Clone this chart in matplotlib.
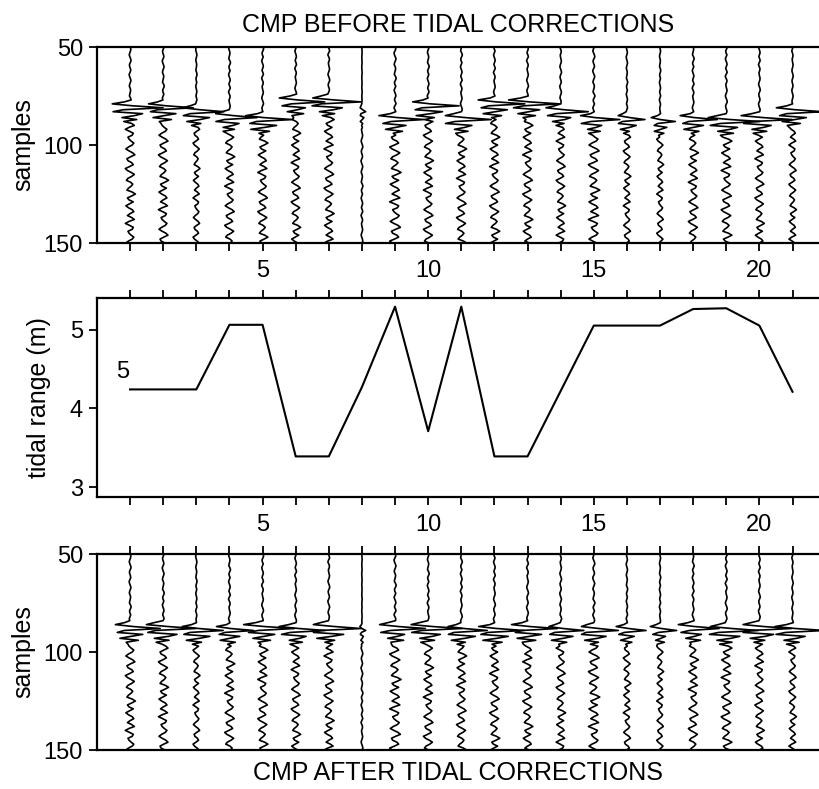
import numpy as np
import matplotlib.pyplot as plt

plt.rcParams['font.family'] = ['Liberation Sans', 'DejaVu Sans']

# CMP numbers and tidal range
cmp_no = np.arange(1, 22)
tidal_range = [4.24, 4.24, 4.24, 5.06, 5.06, 3.39, 3.39, 4.27, 5.29, 3.71, 5.29,
               3.39, 3.39, 4.22, 5.05, 5.05, 5.05, 5.26, 5.27, 5.05, 4.21]

# first-break sample of the main reflection, before / after correction
arrival_before = [78, 78, 80, 83, 84, 75, 75, 80, 84, 77, 84,
                  76, 76, 80, 84, 84, 85, 84, 85, 84, 80]
arrival_after = [85, 85, 86, 86, 85, 86, 85, 86, 85, 85, 86,
                 86, 85, 86, 86, 86, 86, 85, 86, 85, 86]

# per-trace amplitude of the reflection and of the background wiggle
trace_gain = [1.0, 1.0, 0.9, 0.8, 1.0, 0.9, 1.0, 0.12, 0.9, 1.0, 0.9,
              1.0, 1.0, 0.8, 0.8, 0.6, 0.5, 0.8, 1.0, 1.0, 1.0]
noise_gain = [0.16, 0.16, 0.11, 0.16, 0.16, 0.15, 0.16, 0.03, 0.18, 0.16, 0.16,
              0.16, 0.16, 0.15, 0.18, 0.12, 0.11, 0.16, 0.17, 0.15, 0.12]
coda_offset = [0, 7, 13, 19, 26, 31, 38, 4, 11, 17, 23,
               29, 35, 42, 2, 9, 15, 21, 27, 33, 40]

# hand-read reflection wavelet and trailing wiggle pattern (one value per sample)
wavelet = [-0.2, -0.5, 0.1, 0.95, -0.2, -0.45, 0.4, 0.1, -0.3, 0.2, -0.15]
coda = [0.2, 0.7, 0.4, -0.3, -0.8, -0.2, 0.5, 0.9, 0.1, -0.6, -0.4, 0.3,
        0.6, -0.1, -0.9, -0.5, 0.2, 0.8, 0.3, -0.4, -0.7, 0.1, 0.5, 0.2,
        -0.3, -0.6, 0.4, 1.0, 0.3, -0.5, -0.2, 0.6, -0.1, -0.8, -0.3, 0.4,
        0.7, 0.0, -0.5, 0.3, 0.8, -0.2, -0.9, -0.1, 0.6, 0.4, -0.4, -0.2]

samples = np.arange(50, 151)


def make_trace(i, arrival):
    sig = np.zeros(len(samples))
    for k, s in enumerate(samples):
        n = noise_gain[i] * coda[(k + coda_offset[i]) % len(coda)]
        j = s - arrival
        if j < 0:
            sig[k] = 0.2 * n
        elif j < len(wavelet):
            sig[k] = trace_gain[i] * wavelet[j] + 0.5 * n
        else:
            sig[k] = n
    return sig


def draw_section(ax, arrivals):
    for i, c in enumerate(cmp_no):
        ax.plot(c + make_trace(i, arrivals[i]), samples, color='black', lw=1.2)
    ax.set_ylim(150, 50)
    ax.set_yticks([50, 100, 150])


fig = plt.figure(figsize=(8.19, 7.89), dpi=100)
ax1 = fig.add_axes([0.1184, 0.692, 0.8816, 0.2484])
ax2 = fig.add_axes([0.1184, 0.3701, 0.8816, 0.2522])
ax3 = fig.add_axes([0.1184, 0.0494, 0.8816, 0.2484])

xlabels = [str(c) if c % 5 == 0 else '' for c in cmp_no]

draw_section(ax1, arrival_before)
draw_section(ax3, arrival_after)

ax2.plot(cmp_no, tidal_range, color='black', lw=1.5)
ax2.set_ylim(2.875, 5.4)
ax2.set_yticks([3, 4, 5])
ax2.text(0.78, 4.46, '5', fontsize=17, ha='center', va='center')

for ax in (ax1, ax2, ax3):
    ax.set_xlim(0, 21.8)
    ax.set_xticks(cmp_no)
    ax.set_xticklabels(xlabels)
    for sp in ax.spines.values():
        sp.set_linewidth(1.6)
    ax.spines['right'].set_visible(False)
    ax.tick_params(axis='both', direction='out', length=6, width=1.3,
                   labelsize=17, pad=4)

ax1.tick_params(axis='x', bottom=True, top=False, labelbottom=True, pad=6)
ax2.tick_params(axis='x', bottom=True, top=True, labelbottom=True, labeltop=False, pad=6)
ax3.tick_params(axis='x', bottom=False, top=True, labelbottom=False, labeltop=False)

ax1.set_ylabel('samples', fontsize=18, labelpad=6)
ax2.set_ylabel('tidal range (m)', fontsize=18, labelpad=14)
ax3.set_ylabel('samples', fontsize=18, labelpad=6)

ax1.set_title('CMP BEFORE TIDAL CORRECTIONS', fontsize=18, pad=11)
ax3.set_xlabel('CMP AFTER TIDAL CORRECTIONS', fontsize=18, labelpad=8)

fig.savefig('out.png', dpi=100)
